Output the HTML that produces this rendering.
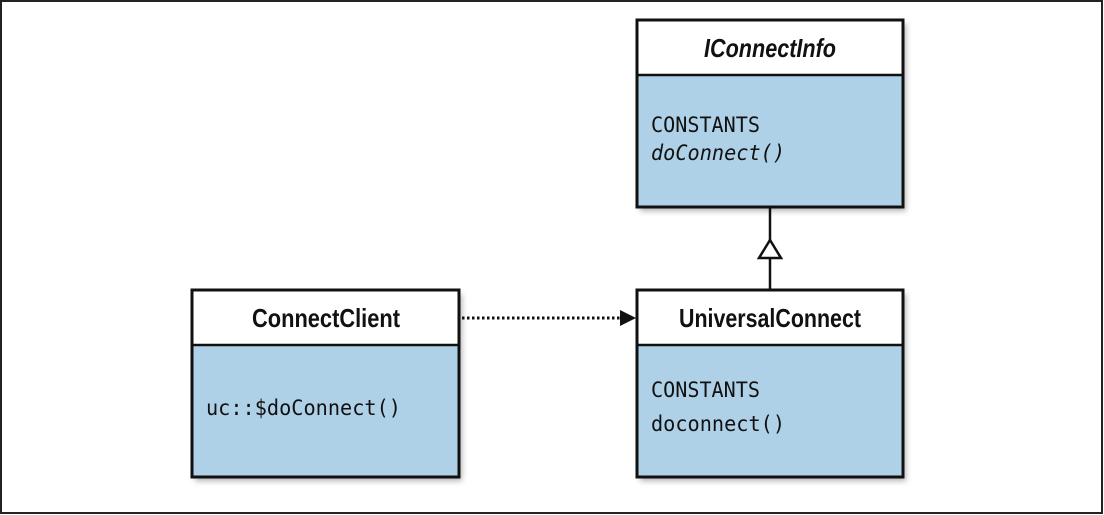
<!DOCTYPE html>
<html><head><meta charset="utf-8"><style>
html,body{margin:0;padding:0;background:#fff;width:1104px;height:515px;overflow:hidden}
</style></head><body>
<svg width="1104" height="515" xmlns="http://www.w3.org/2000/svg">
<defs>
<filter id="sh" x="-10%" y="-10%" width="130%" height="130%"><feDropShadow dx="3" dy="4" stdDeviation="3" flood-color="#000" flood-opacity="0.3"/></filter>
</defs>
<rect x="1" y="1" width="1101" height="512" fill="#fff" stroke="#222" stroke-width="2"/>
<g font-family="'DejaVu Sans Mono','Liberation Mono',monospace" font-size="21.5" fill="#111">
<!-- IConnectInfo -->
<g filter="url(#sh)"><rect x="637" y="20" width="266" height="187" fill="#afd1e8"/></g>
<rect x="637" y="20" width="266" height="55" fill="#fff"/>
<rect x="637" y="20" width="266" height="187" fill="none" stroke="#111" stroke-width="3"/>
<line x1="637" y1="75" x2="903" y2="75" stroke="#111" stroke-width="2.5"/>
<text x="770" y="57" text-anchor="middle" font-family="'Liberation Sans',sans-serif" font-weight="bold" font-style="italic" font-size="26" textLength="132" lengthAdjust="spacingAndGlyphs">IConnectInfo</text>
<text x="651" y="132" textLength="109" lengthAdjust="spacingAndGlyphs">CONSTANTS</text>
<text x="651" y="160" font-style="italic" textLength="134" lengthAdjust="spacingAndGlyphs">doConnect()</text>
<!-- generalization -->
<line x1="770" y1="207" x2="770" y2="240" stroke="#111" stroke-width="2.5"/>
<polygon points="770,240 759,258 781,258" fill="#fff" stroke="#111" stroke-width="2.5"/>
<line x1="770" y1="258" x2="770" y2="290" stroke="#111" stroke-width="2.5"/>
<!-- ConnectClient -->
<g filter="url(#sh)"><rect x="192" y="290" width="267" height="187" fill="#afd1e8"/></g>
<rect x="192" y="290" width="267" height="55" fill="#fff"/>
<rect x="192" y="290" width="267" height="187" fill="none" stroke="#111" stroke-width="3"/>
<line x1="192" y1="345" x2="459" y2="345" stroke="#111" stroke-width="2.5"/>
<text x="326" y="327" text-anchor="middle" font-family="'Liberation Sans',sans-serif" font-weight="bold" font-size="26" textLength="148" lengthAdjust="spacingAndGlyphs">ConnectClient</text>
<text x="206" y="415" textLength="195" lengthAdjust="spacingAndGlyphs">uc::$doConnect()</text>
<!-- dependency arrow -->
<line x1="462" y1="318" x2="620" y2="318" stroke="#111" stroke-width="3" stroke-dasharray="2.5,2.5"/>
<polygon points="620,310 636,318 620,326" fill="#111"/>
<!-- UniversalConnect -->
<g filter="url(#sh)"><rect x="637" y="290" width="266" height="187" fill="#afd1e8"/></g>
<rect x="637" y="290" width="266" height="55" fill="#fff"/>
<rect x="637" y="290" width="266" height="187" fill="none" stroke="#111" stroke-width="3"/>
<line x1="637" y1="345" x2="903" y2="345" stroke="#111" stroke-width="2.5"/>
<text x="770" y="327" text-anchor="middle" font-family="'Liberation Sans',sans-serif" font-weight="bold" font-size="26" textLength="182" lengthAdjust="spacingAndGlyphs">UniversalConnect</text>
<text x="651" y="397" textLength="109" lengthAdjust="spacingAndGlyphs">CONSTANTS</text>
<text x="651" y="431" textLength="134" lengthAdjust="spacingAndGlyphs">doconnect()</text>
</g>
</svg>
</body></html>
